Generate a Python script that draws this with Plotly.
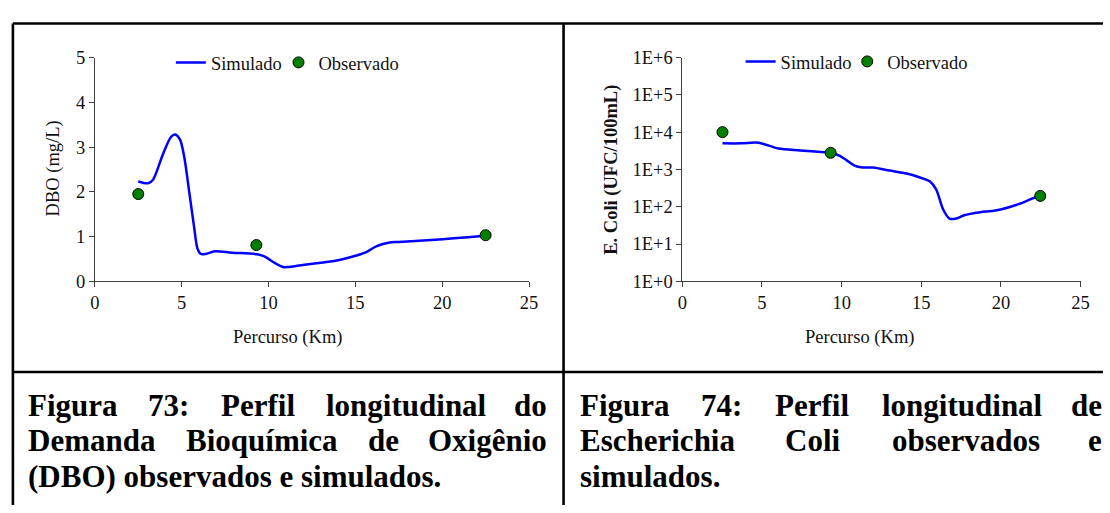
import plotly.graph_objects as go

W, H = 1110, 513

# ---------------- data ----------------
dbo_sim_km = [2.5, 3.07, 3.35, 3.92, 4.39, 4.62, 4.91, 5.15, 5.44, 5.72, 5.91, 6.1, 6.38, 6.91,
              7.9, 9.41, 9.79, 10.36, 10.83, 11.12, 11.87, 12.9, 14.0, 15.0, 15.6, 16.2, 16.9,
              17.5, 19.6, 22.5]
dbo_sim = [2.23, 2.19, 2.27, 2.84, 3.23, 3.28, 3.16, 2.77, 1.98, 1.20, 0.73, 0.61, 0.61, 0.67,
           0.64, 0.60, 0.55, 0.41, 0.32, 0.32, 0.36, 0.41, 0.47, 0.57, 0.645, 0.78, 0.86,
           0.88, 0.93, 1.02]
dbo_obs_km = [2.5, 9.3, 22.5]
dbo_obs = [1.95, 0.81, 1.03]

ecoli_sim_km = [2.52, 3.7, 4.6, 5.05, 6.03, 7.4, 8.92, 9.4, 9.85, 10.3, 10.78, 11.2, 11.98,
                13.0, 14.08, 15.0, 15.53, 15.94, 16.36, 16.77, 17.04, 17.3, 17.7, 18.7, 19.66,
                21.1, 22.1, 22.45]
ecoli_sim = [5000, 5000, 5250, 4900, 3630, 3240, 2880, 2750, 2340, 1780, 1290, 1150, 1120,
             933, 776, 589, 479, 288, 87, 48, 47, 50, 59, 71, 79, 117, 174, 185]
ecoli_obs_km = [2.52, 9.31, 22.47]
ecoli_obs = [10000, 2800, 195]

x_ticks = [0, 5, 10, 15, 20, 25]
dbo_ticks = [0, 1, 2, 3, 4, 5]
ecoli_tickvals = [1, 10, 100, 1000, 10000, 100000, 1000000]
ecoli_ticktext = ["1E+0", "1E+1", "1E+2", "1E+3", "1E+4", "1E+5", "1E+6"]

caption_left = ["Figura 73: Perfil longitudinal do",
                "Demanda Bioquímica de Oxigênio",
                "(DBO) observados e simulados."]
caption_right = ["Figura 74: Perfil longitudinal de",
                 "Escherichia Coli observados e",
                 "simulados."]

FONT = "Liberation Serif"
FS = 18.5
BLUE = "#0000FF"
GREEN = "#008000"
AXC = "#404040"


def px(x):
    return x / W


def py(y):
    return 1 - y / H


fig = go.Figure()

fig.add_trace(go.Scatter(x=dbo_sim_km, y=dbo_sim, mode="lines", name="Simulado",
                         line=dict(color=BLUE, width=2.5, shape="spline", smoothing=0.8),
                         xaxis="x", yaxis="y", legend="legend"))
fig.add_trace(go.Scatter(x=dbo_obs_km, y=dbo_obs, mode="markers", name="Observado",
                         marker=dict(color=GREEN, size=11, line=dict(color="black", width=1)),
                         xaxis="x", yaxis="y", legend="legend2"))
fig.add_trace(go.Scatter(x=ecoli_sim_km, y=ecoli_sim, mode="lines", name="Simulado",
                         line=dict(color=BLUE, width=2.5, shape="spline", smoothing=0.8),
                         xaxis="x2", yaxis="y2", legend="legend3"))
fig.add_trace(go.Scatter(x=ecoli_obs_km, y=ecoli_obs, mode="markers", name="Observado",
                         marker=dict(color=GREEN, size=11, line=dict(color="black", width=1)),
                         xaxis="x2", yaxis="y2", legend="legend4"))

axis_common = dict(showline=True, linecolor=AXC, linewidth=1, ticks="outside", ticklen=5,
                   tickcolor=AXC, tickwidth=1, showgrid=False, zeroline=False,
                   tickfont=dict(family=FONT, size=FS, color="#111"))


def leg(x0, yc):
    return dict(orientation="h", x=px(x0), y=py(yc), xanchor="left", yanchor="middle",
                bgcolor="rgba(0,0,0,0)", font=dict(family=FONT, size=FS, color="#111"),
                borderwidth=0)


ydom = [py(282.3), py(49.5)]
fig.update_layout(
    width=W, height=H, margin=dict(l=0, r=0, t=0, b=0),
    paper_bgcolor="white", plot_bgcolor="white",
    font=dict(family=FONT, size=FS, color="#111"),
    xaxis=dict(domain=[px(91), px(530.7)], range=[0, 25], tickvals=x_ticks,
               anchor="y", **axis_common),
    yaxis=dict(domain=ydom, range=[0, 5], tickvals=dbo_ticks, anchor="x", **axis_common),
    xaxis2=dict(domain=[px(686), px(1089.3)], range=[0, 25], tickvals=x_ticks,
                anchor="y2", **axis_common),
    yaxis2=dict(domain=ydom, type="log", range=[0, 6], tickvals=ecoli_tickvals,
                ticktext=ecoli_ticktext, anchor="x2", **axis_common),
    legend=leg(168, 55),
    legend2=leg(277, 55),
    legend3=leg(745, 54),
    legend4=leg(853, 54),
    showlegend=True,
)

ann = []
ann.append(dict(text="Percurso (Km)", x=px(286.5), y=py(341), xref="paper", yref="paper",
                showarrow=False, xanchor="center", yanchor="middle",
                font=dict(family=FONT, size=FS, color="#111")))
ann.append(dict(text="Percurso (Km)", x=px(865), y=py(341), xref="paper", yref="paper",
                showarrow=False, xanchor="center", yanchor="middle",
                font=dict(family=FONT, size=FS, color="#111")))
ann.append(dict(text="DBO (mg/L)", x=px(49.5), y=py(165), xref="paper", yref="paper",
                showarrow=False, xanchor="center", yanchor="middle", textangle=-90,
                font=dict(family=FONT, size=FS, color="#111")))
ann.append(dict(text="<b>E. Coli (UFC/100mL)</b>", x=px(614), y=py(166), xref="paper",
                yref="paper", showarrow=False, xanchor="center", yanchor="middle",
                textangle=-90, font=dict(family=FONT, size=FS, color="#111")))

CW = {' ': 250, '(': 333, ')': 333, '.': 250, ':': 333, 'B': 667, 'C': 722, 'D': 722,
      'E': 667, 'F': 611, 'O': 778, 'P': 611, 'a': 500, 'b': 556, 'c': 444, 'd': 556,
      'e': 444, 'f': 333, 'g': 500, 'h': 556, 'i': 278, 'l': 278, 'm': 833, 'n': 556,
      'o': 500, 'q': 556, 'r': 444, 's': 389, 't': 333, 'u': 556, 'v': 500, 'x': 500,
      'í': 278, 'ê': 444}
CFS = 31


def wwidth(word):
    return sum(CW.get(c, 500) for c in word) * CFS / 1000.0


def add_line(text, x0, x1, yc, justify):
    words = text.split()
    cap_font = dict(family=FONT, size=CFS, color="black")
    if not justify or len(words) == 1:
        ann.append(dict(text="<b>%s</b>" % text, x=px(x0), y=py(yc), xref="paper",
                        yref="paper", showarrow=False, xanchor="left", yanchor="middle",
                        font=cap_font, borderpad=0))
        return
    widths = [wwidth(w) for w in words]
    gap = (x1 - x0 - sum(widths)) / (len(words) - 1)
    pos = x0
    for i, (w, wd) in enumerate(zip(words, widths)):
        if i == len(words) - 1:
            ann.append(dict(text="<b>%s</b>" % w, x=px(x1), y=py(yc), xref="paper",
                            yref="paper", showarrow=False, xanchor="right", yanchor="middle",
                            font=cap_font, borderpad=0))
        else:
            ann.append(dict(text="<b>%s</b>" % w, x=px(pos), y=py(yc), xref="paper",
                            yref="paper", showarrow=False, xanchor="left", yanchor="middle",
                            font=cap_font, borderpad=0))
        pos += wd + gap


line_y = [412, 448, 485]
for i, t in enumerate(caption_left):
    add_line(t, 22, 550, line_y[i], justify=(i < 2))
for i, t in enumerate(caption_right):
    add_line(t, 581, 1112, line_y[i], justify=(i < 2))

fig.update_layout(annotations=ann)

LW = 2.6
shapes = [
    dict(type="line", xref="paper", yref="paper", x0=px(8), x1=px(1112), y0=py(14), y1=py(14)),
    dict(type="line", xref="paper", yref="paper", x0=px(8), x1=px(1112), y0=py(376.7), y1=py(376.7)),
    dict(type="line", xref="paper", yref="paper", x0=px(8), x1=px(8), y0=py(14), y1=py(515)),
    dict(type="line", xref="paper", yref="paper", x0=px(565.7), x1=px(565.7), y0=py(14), y1=py(515)),
]
for s in shapes:
    s["line"] = dict(color="black", width=LW)
fig.update_layout(shapes=shapes)

fig.write_html("out.html",
               config={"displayModeBar": False},
               post_script="document.body.style.margin='0';"
                           "document.body.style.overflow='hidden';")
